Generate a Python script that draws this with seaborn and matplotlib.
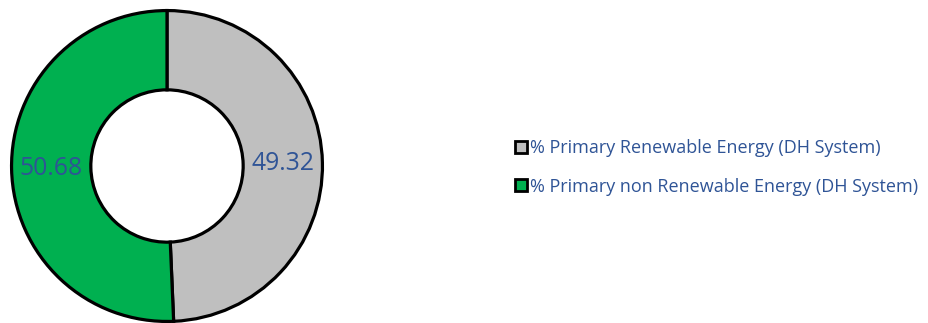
import matplotlib
matplotlib.use("Agg")
import matplotlib.pyplot as plt
import seaborn as sns
import numpy as np
from matplotlib.lines import Line2D

categories = ["% Primary Renewable Energy (DH System)",
              "% Primary non Renewable Energy (DH System)"]
values = [49.32, 50.68]
labels = ["49.32", "50.68"]
colors = ["#BFBFBF", "#00B050"]
text_color = "#2F5496"

sns.set_theme(style="white")
plt.rcParams['font.family'] = ['Open Sans', 'DejaVu Sans']

W, H = 929, 323
fig = plt.figure(figsize=(W / 100, H / 100), dpi=100)
cx, cy, r = 167, 166, 157
ax = fig.add_axes([(cx - r) / W, (H - cy - r) / H, 2 * r / W, 2 * r / H])

width = 0.51
wedges, _ = ax.pie(values, colors=colors, startangle=90, counterclock=False,
                   radius=1.0,
                   wedgeprops=dict(width=width, edgecolor="black", linewidth=2.3))
theta0 = 90
for v, lab in zip(values, labels):
    frac = v / sum(values) * 360
    mid = theta0 - frac / 2
    theta0 -= frac
    rr = 1 - width / 2
    ax.text(rr * np.cos(np.radians(mid)), rr * np.sin(np.radians(mid)), lab,
            ha="center", va="center", fontsize=17.8, color=text_color)
ax.set_xlim(-1.01, 1.01)
ax.set_ylim(-1.01, 1.01)
ax.set_aspect("equal")
ax.axis("off")

handles = [Line2D([0], [0], marker="s", linestyle="none", markersize=9,
                  markerfacecolor=c, markeredgecolor="black", markeredgewidth=2)
           for c in colors]
leg = fig.legend(handles, categories, loc="center left",
                 bbox_to_anchor=(505 / W, 1 - 167.5 / H), frameon=False,
                 fontsize=13.0, labelcolor=text_color, handletextpad=0.0,
                 handlelength=1.0, labelspacing=1.12, borderaxespad=0)

fig.savefig("out.png", dpi=100)
